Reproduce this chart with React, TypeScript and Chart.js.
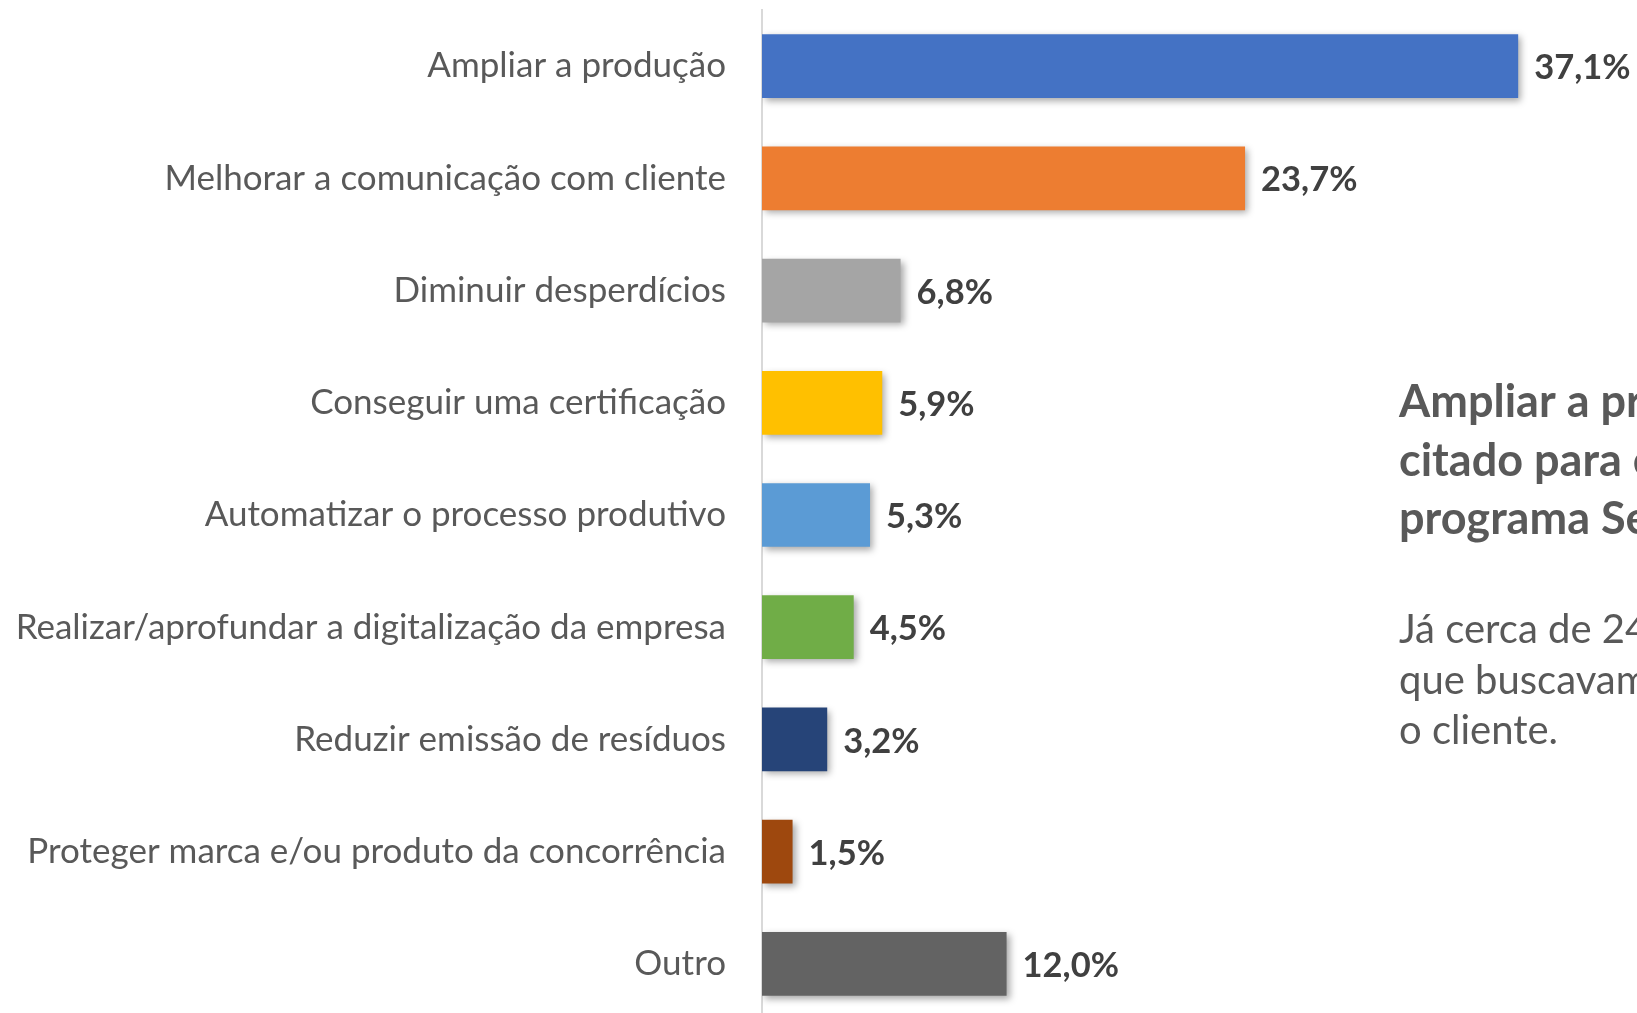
import React, { useEffect, useRef } from "react";
import { Chart, registerables } from "chart.js";

Chart.register(...registerables);

const categories = [
  "Ampliar a produção",
  "Melhorar a comunicação com cliente",
  "Diminuir desperdícios",
  "Conseguir uma certificação",
  "Automatizar o processo produtivo",
  "Realizar/aprofundar a digitalização da empresa",
  "Reduzir emissão de resíduos",
  "Proteger marca e/ou produto da concorrência",
  "Outro",
];
const values = [37.1, 23.7, 6.8, 5.9, 5.3, 4.5, 3.2, 1.5, 12.0];
const barColors = [
  "#4472C4",
  "#ED7D31",
  "#A5A5A5",
  "#FFC000",
  "#5B9BD5",
  "#70AD47",
  "#264478",
  "#9E480E",
  "#636363",
];
const headlineLines = ["Ampliar a pr", "citado para e", "programa Se"];
const bodyLines = ["Já cerca de 24", "que buscavam", "o cliente."];

const FONT = "Lato, 'Open Sans', sans-serif";

export default function App() {
  const ref = useRef<HTMLCanvasElement>(null);

  useEffect(() => {
    if (!ref.current) return;
    const labelsPlugin = {
      id: "labelsAndShadow",
      beforeDatasetsDraw(chart: any) {
        const ctx = chart.ctx;
        ctx.save();
        ctx.shadowColor = "rgba(0,0,0,0.35)";
        ctx.shadowBlur = 7;
        ctx.shadowOffsetX = 3;
        ctx.shadowOffsetY = 3;
      },
      afterDatasetsDraw(chart: any) {
        const ctx = chart.ctx;
        ctx.restore();
        const meta = chart.getDatasetMeta(0);
        ctx.save();
        ctx.font = `bold 34.5px ${FONT}`;
        ctx.fillStyle = "#404040";
        ctx.textBaseline = "middle";
        ctx.textAlign = "left";
        meta.data.forEach((bar: any, i: number) => {
          const v = values[i];
          const txt = v.toFixed(1).replace(".", ",") + "%";
          ctx.fillText(txt, bar.x + 16, bar.y + 2);
        });
        ctx.restore();
      },
      afterDraw(chart: any) {
        const ctx = chart.ctx;
        ctx.save();
        ctx.fillStyle = "#595959";
        ctx.textAlign = "left";
        ctx.textBaseline = "alphabetic";
        ctx.font = `bold 45px ${FONT}`;
        headlineLines.forEach((t, i) => ctx.fillText(t, 1399, 417 + i * 58.5));
        ctx.font = `40px ${FONT}`;
        bodyLines.forEach((t, i) => ctx.fillText(t, 1399, 643 + i * 50.5));
        ctx.restore();
      },
    };

    const chart = new Chart(ref.current, {
      type: "bar",
      data: {
        labels: categories,
        datasets: [
          {
            data: values,
            backgroundColor: barColors,
            borderWidth: 0,
            categoryPercentage: 1,
            barPercentage: 0.568,
          },
        ],
      },
      options: {
        indexAxis: "y",
        responsive: false,
        animation: false,
        layout: { padding: { top: 10, left: 0, right: 0, bottom: 0 } },
        plugins: {
          legend: { display: false },
          tooltip: { enabled: false },
        },
        scales: {
          x: { display: false, min: 0, max: 42.93 },
          y: {
            type: "category",
            grid: { display: false, drawTicks: false },
            border: { display: true, color: "#d9d9d9", width: 2 },
            ticks: {
              font: { family: FONT, size: 35 },
              color: "#595959",
              padding: 36,
            },
            afterFit(scale: any) {
              scale.width = 762;
              scale.paddingTop = 0;
              scale.paddingBottom = 0;
            },
          },
        },
      },
      plugins: [labelsPlugin],
    } as any);
    return () => chart.destroy();
  }, []);

  return (
    <div
      style={{
        position: "fixed",
        left: 0,
        top: 0,
        width: 1637,
        height: 1013,
        overflow: "hidden",
        background: "#ffffff",
      }}
    >
      <canvas ref={ref} width={1637} height={1020} style={{ display: "block" }} />
    </div>
  );
}
